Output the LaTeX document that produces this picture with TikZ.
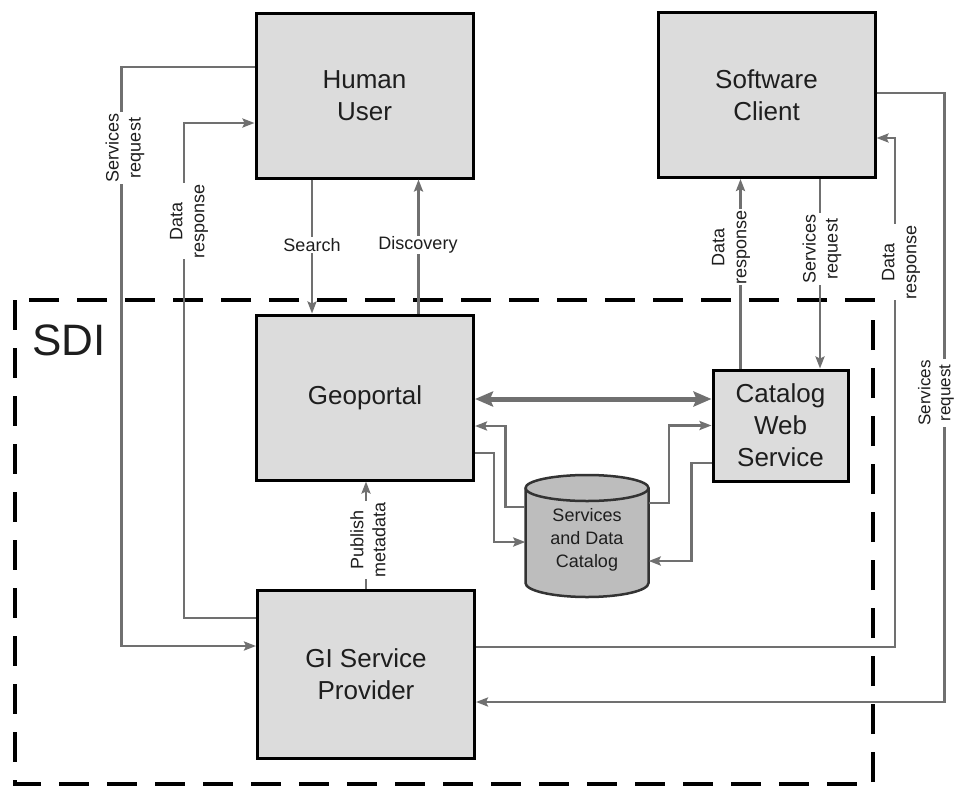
\documentclass[tikz,border=0pt]{standalone}
\usepackage{fontspec}
\setmainfont{Liberation Sans}
\usetikzlibrary{arrows.meta}
\definecolor{boxgray}{HTML}{DCDCDC}
\definecolor{cylgray}{HTML}{BDBDBD}
\definecolor{linegray}{HTML}{707070}
\definecolor{txt}{HTML}{1E1E1E}
\begin{document}
\begin{tikzpicture}[x=1pt,y=-1pt,
  box/.style={draw=black, line width=3pt, fill=boxgray, minimum width=217pt, minimum height=165pt,
    inner sep=0pt, align=center, text=txt, font=\fontsize{26}{32}\selectfont},
  conn/.style={draw=linegray, line width=2.4pt},
  arr/.style={conn, -{Stealth[length=12pt,width=9pt,inset=2pt]}},
  bigarr/.style={draw=linegray, line width=5pt, {Stealth[length=18pt,width=15pt,inset=3pt]}-{Stealth[length=18pt,width=15pt,inset=3pt]}},
  lab/.style={fill=white, inner sep=1pt, align=center, text=txt, font=\fontsize{18}{22}\selectfont},
  sdibox/.style={draw=black, line width=4pt, dash pattern=on 30pt off 18pt}
]
\useasboundingbox (0,0) rectangle (958,790);
\fill[white] (0,0) rectangle (958,790);

% SDI boundary
\draw[sdibox] (15,300) rectangle (873,784);
\node[text=txt, font=\fontsize{44}{48}\selectfont, inner sep=0pt] (sdi) at (69,340) {SDI};

% boxes
\node[box] (hu) at (364.5,95.5) {Human\\User};
\node[box] (sc) at (766.5,95) {Software\\Client};
\node[box] (gp) at (365,397.5) {Geoportal};
\node[box, minimum height=168pt] (gi) at (366,674) {GI Service\\Provider};
\node[box, minimum width=135pt, minimum height=111pt] (cws) at (780.5,425.5) {Catalog\\Web\\Service};

% cylinder
\draw[line width=2.5pt, draw=black!80, fill=cylgray]
  (525.5,488) -- (525.5,583) arc[start angle=180, end angle=360, x radius=61.5pt, y radius=14pt]
  -- (648.5,488) arc[start angle=0, end angle=180, x radius=61.5pt, y radius=13pt] -- cycle;
\draw[line width=2.5pt, draw=black!80] (525.5,488) arc[start angle=180, end angle=360, x radius=61.5pt, y radius=13pt];
\node[minimum width=123pt, minimum height=122pt, inner sep=0pt, align=center, text=txt,
  font=\fontsize{18}{23}\selectfont] (cat) at (587,540) {Services\\and Data\\Catalog};

% human user connectors
\draw[arr] ([yshift=28.5pt]hu.west) -- ++(-133,0) |- ([yshift=28pt]gi.west);
\draw[arr] ([yshift=56pt]gi.west) -- ++(-72,0) |- ([yshift=-27.5pt]hu.west);
\draw[arr] ([xshift=-52.5pt]hu.south) -- ([xshift=-52.5pt]hu.south |- gp.north);
\draw[arr] ([xshift=53.5pt]gp.north) -- ([xshift=53.5pt]gp.north |- hu.south);

% geoportal - catalog
\draw[bigarr] ([yshift=-1.5pt]gp.east) -- ([yshift=-1.5pt]gp.east -| cws.west);
\draw[arr] ([yshift=33pt]cat.west) -- ++(-20,0) |- ([yshift=-28.5pt]gp.east);
\draw[arr] ([yshift=-55.5pt]gp.east) -- ++(19,0) |- ([yshift=-2pt]cat.west);
\draw[arr] ([yshift=37pt]cat.east) -- ++(20,0) |- (cws.west);
\draw[arr] ([yshift=-37.5pt]cws.west) -- ++(-20,0) |- ([yshift=-21pt]cat.east);

% software client connectors
\draw[arr] ([xshift=-40pt]cws.north) -- ([xshift=-40pt]cws.north |- sc.south);
\draw[arr] ([xshift=53.5pt]sc.south) -- ([xshift=53.5pt]sc.south |- cws.north);
\draw[arr] ([yshift=27pt]gi.east) -- ++(419,0) |- ([yshift=-43pt]sc.east);
\draw[arr] ([yshift=2pt]sc.east) -- ++(68,0) |- ([yshift=-28pt]gi.east);

% publish metadata
\draw[arr] (gi.north) -- (gi.north |- gp.south);

% labels
\node[lab, rotate=90] (l1) at (125,148) {Services\\request};
\node[lab, rotate=90] (l2) at (189,221) {Data\\response};
\node[lab] (l3) at (312,245) {Search};
\node[lab] (l4) at (418,245) {Discovery};
\node[lab, rotate=90] (l5) at (731,247) {Data\\response};
\node[lab, rotate=90] (l6) at (822,249) {Services\\request};
\node[lab, rotate=90] (l7) at (901,262) {Data\\response};
\node[lab, rotate=90, font=\fontsize{17}{20}\selectfont] (l8) at (936,393) {Services\\request};
\node[lab, rotate=90] (l9) at (368,540) {Publish\\metadata};
\end{tikzpicture}
\end{document}
